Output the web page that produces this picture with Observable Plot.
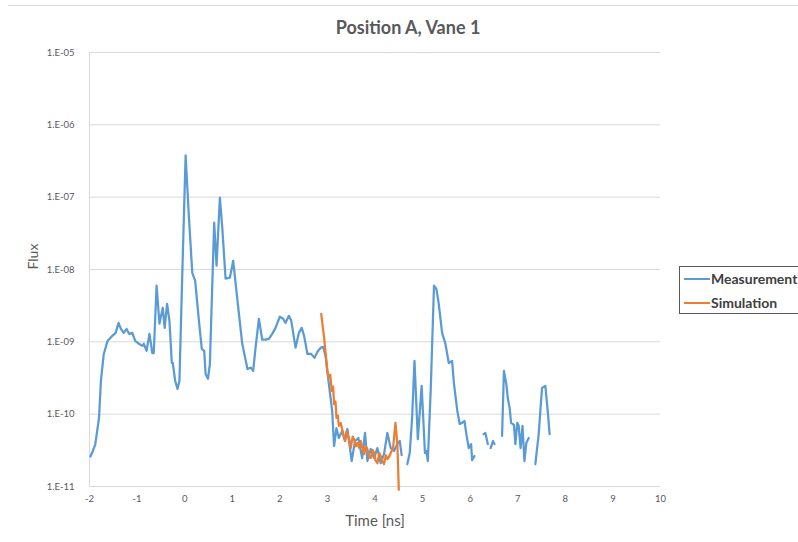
<!DOCTYPE html>
<html>
<head>
<meta charset="utf-8">
<script src="https://cdn.jsdelivr.net/npm/d3@7"></script>
<script src="https://cdn.jsdelivr.net/npm/@observablehq/plot@0.6"></script>
<style>
  html, body { margin: 0; padding: 0; background: #fff; }
  #chart svg { display: block; }
</style>
</head>
<body>
<div id="chart"></div>
<script>
const title = "Position A, Vane 1";
const xLabel = "Time [ns]";
const yLabel = "Flux";
const seriesNames = ["Measurement", "Simulation"];
const seriesColors = ["#5b9bd5", "#ed7d31"];

const xTicks = [-2, -1, 0, 1, 2, 3, 4, 5, 6, 7, 8, 9, 10];
const yTicks = [1e-11, 1e-10, 1e-9, 1e-8, 1e-7, 1e-6, 1e-5];
const yTickLabels = ["1.E-11", "1.E-10", "1.E-09", "1.E-08", "1.E-07", "1.E-06", "1.E-05"];

// Measurement (null = gap in the curve)
const measTime = [
  -1.98, -1.93, -1.88, -1.80, -1.76, -1.70, -1.62, -1.52, -1.45, -1.39,
  -1.34, -1.28, -1.22, -1.17, -1.10, -1.04, -0.96, -0.89, -0.86, -0.80,
  -0.74, -0.68, -0.65, -0.59, -0.53, -0.46, -0.42, -0.37, -0.32, -0.27,
  -0.25, -0.20, -0.15, -0.11, -0.05, 0.02, 0.09, 0.16, 0.22, 0.30,
  0.36, 0.41, 0.44, 0.49, 0.53, 0.62, 0.67, 0.74, 0.79, 0.86,
  0.95, 1.02, 1.11, 1.21, 1.32, 1.39, 1.44, 1.49, 1.56, 1.63,
  1.70, 1.77, 1.84, 1.91, 2.00, 2.07, 2.12, 2.19, 2.24, 2.33,
  2.40, 2.46, 2.51, 2.58, 2.66, 2.73, 2.79, 2.86, 2.91, 2.96,
  3.03, 3.10, 3.14, 3.19, 3.24, 3.31, 3.37, 3.42, 3.51, 3.58,
  3.65, 3.73, 3.79, 3.84, 3.91, 3.98, 4.05, 4.12, 4.19, 4.26,
  4.33, 4.40, 4.47, 4.52, 4.56, 4.62,
  4.68, 4.73, 4.78, 4.83, 4.90, 4.98, 5.05, 5.08, 5.11, 5.17,
  5.24, 5.29, 5.34, 5.41, 5.48, 5.55, 5.62, 5.66, 5.73, 5.78,
  5.83, 5.88, 5.92, 5.97, 6.02, 6.04, 6.09, 6.18,
  6.28, 6.32, 6.37, 6.40,
  6.43, 6.48, 6.51, 6.60,
  6.67, 6.71, 6.76, 6.79, 6.83, 6.86, 6.92, 6.95, 6.99, 7.02,
  7.06, 7.10, 7.14, 7.18, 7.23, 7.30,
  7.37, 7.44, 7.51, 7.58, 7.63, 7.67
];
const measFlux = [
  2.6e-11, 3.1e-11, 3.8e-11, 8.9e-11, 2.9e-10, 6.8e-10, 1.03e-9, 1.21e-9, 1.33e-9, 1.83e-9,
  1.51e-9, 1.33e-9, 1.51e-9, 1.29e-9, 1.33e-9, 1.03e-9, 9.4e-10, 8.8e-10, 9.4e-10, 7.5e-10,
  1.29e-9, 7.0e-10, 7.0e-10, 5.97e-9, 1.78e-9, 2.96e-9, 1.56e-9, 3.36e-9, 1.95e-9, 5.1e-10,
  5.1e-10, 2.9e-10, 2.23e-10, 2.9e-10, 8.75e-9, 3.77e-7, 5.2e-8, 9.0e-9, 7.0e-9, 1.95e-9,
  8.0e-10, 7.5e-10, 3.6e-10, 3.08e-10, 4.96e-10, 4.45e-8, 1.13e-8, 9.86e-8, 3.79e-8, 7.46e-9,
  7.7e-9, 1.32e-8, 3.7e-9, 9.4e-10, 4.2e-10, 4.4e-10, 3.96e-10, 8.3e-10, 2.08e-9, 1.07e-9,
  1.07e-9, 1.1e-9, 1.29e-9, 1.56e-9, 2.22e-9, 2.08e-9, 1.83e-9, 2.29e-9, 1.95e-9, 8.3e-10,
  1.33e-9, 1.56e-9, 1.21e-9, 6.8e-10, 6.8e-10, 6.0e-10, 7.3e-10, 8.3e-10, 8.5e-10, 6.4e-10,
  2.62e-10, 1.11e-10, 3.63e-11, 6.4e-11, 4.68e-11, 5.85e-11, 4.26e-11, 6.24e-11, 2.25e-11, 4.26e-11,
  4.68e-11, 2.47e-11, 5.5e-11, 2.25e-11, 3.3e-11, 2.47e-11, 3.4e-11, 2.1e-11, 2.8e-11, 5.5e-11,
  3.4e-11, 3.1e-11, 3.86e-11, 4.26e-11, 2.72e-11, null,
  2.04e-11, 2.9e-11, 8.9e-11, 5.46e-10, 4.5e-11, 2.46e-10, 2.9e-11, 3.1e-11, 2.25e-11, 2.1e-10,
  5.97e-9, 5.4e-9, 3.36e-9, 1.33e-9, 9.4e-10, 5.1e-10, 5.46e-10, 2.62e-10, 1.11e-10, 7.3e-11,
  7.6e-11, 8.05e-11, 5.3e-11, 3.4e-11, 3.86e-11, 2.32e-11, 2.64e-11, null,
  5.3e-11, 5.5e-11, 3.86e-11, null,
  3.4e-11, 4.26e-11, 3.86e-11, null,
  5.0e-11, 3.96e-10, 2.62e-10, 1.67e-10, 1.22e-10, 7.6e-11, 7.1e-11, 3.86e-11, 7.6e-11, 6.9e-11,
  3.4e-11, 6.9e-11, 2.25e-11, 4.0e-11, 4.68e-11, null,
  2.04e-11, 5.3e-11, 2.3e-10, 2.46e-10, 1.11e-10, 5.3e-11
];

// Simulation
const simTime = [
  2.87, 2.93, 3.00, 3.03, 3.06, 3.09, 3.12, 3.14, 3.17, 3.19,
  3.22, 3.24, 3.28, 3.31, 3.34, 3.37, 3.40, 3.42, 3.46, 3.49,
  3.53, 3.56, 3.60, 3.63, 3.67, 3.70, 3.73, 3.77, 3.80, 3.84,
  3.87, 3.91, 3.95, 3.98, 4.01, 4.05, 4.09, 4.12, 4.16, 4.19,
  4.23, 4.26, 4.30, 4.33, 4.38, 4.43, 4.47, 4.50
];
const simFlux = [
  2.44e-9, 1.14e-9, 3.96e-10, 3.17e-10, 3.5e-10, 2.1e-10, 2.4e-10, 1.38e-10, 1.5e-10, 8.9e-11,
  9.5e-11, 6.9e-11, 7.5e-11, 6.24e-11, 5.0e-11, 4.26e-11, 5.8e-11, 5.3e-11, 4.4e-11, 3.4e-11,
  4.9e-11, 4.5e-11, 3.6e-11, 4.0e-11, 3.4e-11, 4.26e-11, 3.5e-11, 2.8e-11, 3.6e-11, 3.3e-11,
  2.6e-11, 2.47e-11, 3.2e-11, 2.9e-11, 2.3e-11, 2.1e-11, 2.9e-11, 2.64e-11, 2.2e-11, 2.04e-11,
  2.7e-11, 2.4e-11, 2.6e-11, 2.9e-11, 3.4e-11, 7.6e-11, 3.86e-11, 9e-12
];

const meas = measTime.map((t, i) => ({t, f: measFlux[i]}));
const sim = simTime.map((t, i) => ({t, f: simFlux[i]}));

const FONT = "Lato, 'Open Sans', sans-serif";
const TEXT = "#595959";

const chart = Plot.plot({
  width: 798,
  height: 542,
  marginLeft: 89,
  marginRight: 138,
  marginTop: 52,
  marginBottom: 56,
  style: {fontFamily: FONT, background: "#fff", color: TEXT, overflow: "visible"},
  x: {domain: [-2, 10]},
  y: {type: "log", domain: [1e-11, 1e-5]},
  marks: [
    Plot.ruleY(yTicks, {stroke: "#d9d9d9", strokeWidth: 1}),
    Plot.ruleX([-2], {stroke: "#d9d9d9", strokeWidth: 1}),
    Plot.axisY({ticks: yTicks, tickFormat: d => yTickLabels[yTicks.indexOf(d)], tickSize: 0, tickPadding: 15, fontSize: 9.5, label: null}),
    Plot.axisX({ticks: xTicks, tickFormat: d => String(d), tickSize: 0, tickPadding: 9, fontSize: 9.5, label: null}),
    Plot.line(meas, {x: "t", y: "f", stroke: seriesColors[0], strokeWidth: 2.25, strokeLinejoin: "round"}),
    Plot.line(sim, {x: "t", y: "f", stroke: seriesColors[1], strokeWidth: 2.25, strokeLinejoin: "round"}),
    Plot.text([title], {frameAnchor: "top", lineAnchor: "middle", dy: -24, dx: 33, fontSize: 18, fontWeight: "bold", fill: TEXT}),
    Plot.text([yLabel], {frameAnchor: "left", dx: -56, rotate: -90, fontSize: 14, fill: TEXT}),
    Plot.text([xLabel], {frameAnchor: "bottom", lineAnchor: "middle", dy: 35, fontSize: 15, fill: TEXT})
  ]
});

document.getElementById("chart").appendChild(chart);

// chart-area top border
const svg = d3.select(chart);
svg.append("line").attr("x1", 8).attr("x2", 798).attr("y1", 5.5).attr("y2", 5.5)
  .attr("stroke", "#d9d9d9").attr("stroke-width", 1);

// legend
const lg = svg.append("g").attr("text-anchor", "start");
lg.append("rect").attr("x", 679.5).attr("y", 266.5).attr("width", 130).attr("height", 47)
  .attr("fill", "#fff").attr("stroke", "#595959").attr("stroke-width", 1);
seriesNames.forEach((name, i) => {
  const y = 279 + i * 24;
  lg.append("line").attr("x1", 684).attr("x2", 710).attr("y1", y).attr("y2", y)
    .attr("stroke", seriesColors[i]).attr("stroke-width", 2);
  lg.append("text").attr("x", 711).attr("y", y).attr("dy", "0.35em")
    .attr("text-anchor", "start")
    .attr("font-family", FONT).attr("font-size", 14).attr("font-weight", "bold")
    .attr("fill", "#404040").text(name);
});
</script>
</body>
</html>
